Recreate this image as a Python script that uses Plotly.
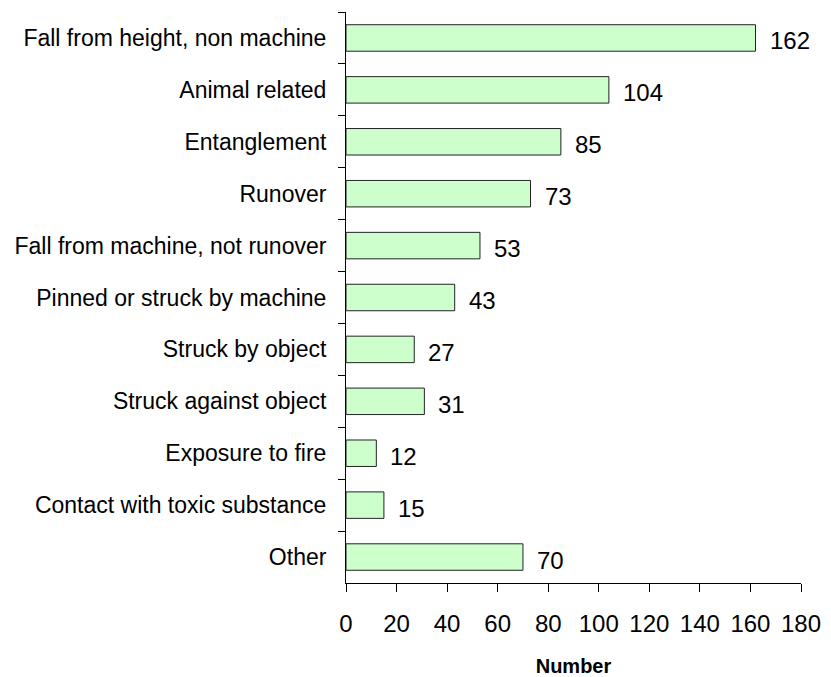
import plotly.graph_objects as go

categories = [
    "Fall from height, non machine",
    "Animal related",
    "Entanglement",
    "Runover",
    "Fall from machine, not runover",
    "Pinned or struck by machine",
    "Struck by object",
    "Struck against object",
    "Exposure to fire",
    "Contact with toxic substance",
    "Other",
]
values = [162, 104, 85, 73, 53, 43, 27, 31, 12, 15, 70]
x_ticks = [0, 20, 40, 60, 80, 100, 120, 140, 160, 180]
x_title = "Number"

FONT = "Arial, Liberation Sans, sans-serif"

fig = go.Figure()
fig.add_trace(go.Bar(
    x=values,
    y=categories,
    orientation="h",
    marker=dict(color="#CCFFCC", line=dict(color="#222222", width=1)),
    hoverinfo="skip",
))

for c, v in zip(categories, values):
    fig.add_annotation(
        x=v, y=c, xref="x", yref="y",
        text=str(v), showarrow=False,
        xanchor="left", yanchor="middle",
        xshift=12, yshift=-3,
        font=dict(family=FONT, size=24, color="black"),
    )

fig.update_layout(
    width=823, height=669,
    margin=dict(l=338, r=30, t=4, b=94, autoexpand=False),
    paper_bgcolor="white", plot_bgcolor="white",
    bargap=0.49,
    showlegend=False,
    font=dict(family=FONT, color="black"),
)

fig.update_xaxes(
    range=[0, 180],
    tickvals=x_ticks,
    ticktext=[str(t) for t in x_ticks],
    showgrid=False, zeroline=False,
    showline=True, linecolor="black", linewidth=1,
    ticks="outside", ticklen=8, tickcolor="black", tickwidth=1,
    tickfont=dict(family=FONT, size=24, color="black"),
    ticklabelstandoff=11,
    automargin=False,
    title=dict(text="<b>" + x_title + "</b>",
               font=dict(family=FONT, size=20, color="black"),
               standoff=30),
    fixedrange=True,
)

fig.update_yaxes(
    autorange="reversed",
    type="category",
    showgrid=False, zeroline=False,
    showline=True, linecolor="black", linewidth=1,
    ticks="outside", ticklen=7, tickcolor="black", tickwidth=1,
    tickson="boundaries",
    tickfont=dict(family=FONT, size=23, color="black"),
    ticklabelstandoff=14,
    automargin=False,
    fixedrange=True,
)

fig.write_html("out.html")
